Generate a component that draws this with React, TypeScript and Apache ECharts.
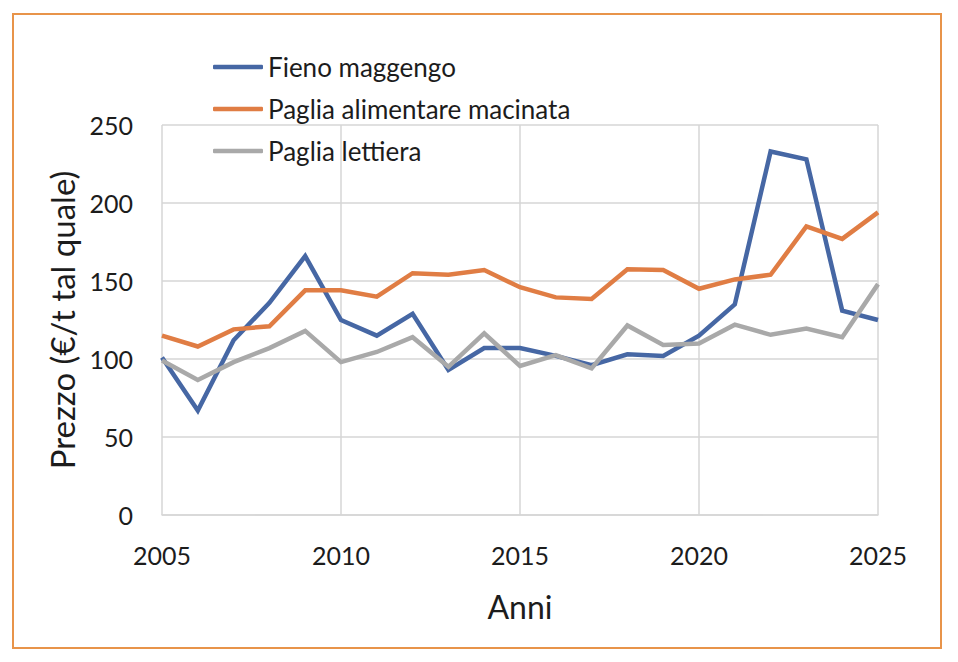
import React, { useEffect, useRef } from "react";
import * as echarts from "echarts";

const years = [2005, 2006, 2007, 2008, 2009, 2010, 2011, 2012, 2013, 2014, 2015, 2016, 2017, 2018, 2019, 2020, 2021, 2022, 2023, 2024, 2025];
const fienoMaggengo = [101, 67, 112, 136, 166, 125, 115, 129, 93, 107, 107, 102, 96, 103, 102, 115, 135, 233, 228, 131, 125];
const pagliaAlimentare = [115, 108, 119, 121, 144, 144, 140, 155, 154, 157, 146, 139.5, 138.5, 157.5, 157, 145, 151, 154, 185, 177, 194];
const pagliaLettiera = [99, 86.5, 98, 107, 118, 98, 104.5, 114, 95, 116.5, 95.5, 102.5, 94, 121.5, 109, 110, 122, 115.5, 119.5, 114, 148];
const seriesNames = ["Fieno maggengo", "Paglia alimentare macinata", "Paglia lettiera"];
const colors = ["#4667a4", "#e07d44", "#a9a9a9"];

const FONT = "Lato";
const TXT = "#1c1c1c";

export default function App() {
  const ref = useRef<HTMLDivElement>(null);
  useEffect(() => {
    document.body.style.margin = "0";
    const chart = echarts.init(ref.current!, null, { renderer: "svg" });
    const all = [fienoMaggengo, pagliaAlimentare, pagliaLettiera];
    chart.setOption({
      animation: false,
      backgroundColor: "#ffffff",
      textStyle: { fontFamily: FONT },
      graphic: [
        {
          type: "rect",
          shape: { x: 13, y: 14, width: 928, height: 634 },
          style: { fill: "none", stroke: "#e8944a", lineWidth: 2 },
          silent: true,
        },
      ],
      legend: {
        orient: "vertical",
        left: 208,
        top: 47,
        itemWidth: 50,
        itemHeight: 4.5,
        itemGap: 12,
        textStyle: { fontFamily: FONT, fontSize: 26, lineHeight: 30, color: TXT },
        data: seriesNames.map((n) => ({ name: n, icon: "roundRect" })),
        itemStyle: { borderWidth: 0 },
      },
      grid: { left: 162, right: 80, top: 125, bottom: 147, containLabel: false },
      xAxis: {
        type: "value",
        min: 2005,
        max: 2025,
        interval: 5,
        name: "Anni",
        nameLocation: "middle",
        nameGap: 75,
        nameTextStyle: { fontFamily: FONT, fontSize: 32, color: TXT },
        axisLine: { show: true, lineStyle: { color: "#d6d6d6", width: 1.5 } },
        axisTick: { show: false },
        axisLabel: {
          fontFamily: FONT,
          fontSize: 25,
          color: TXT,
          margin: 27,
          formatter: (v: number) => String(v),
        },
        splitLine: { show: true, lineStyle: { color: "#d6d6d6", width: 1.5 } },
      },
      yAxis: {
        type: "value",
        min: 0,
        max: 250,
        interval: 50,
        name: "Prezzo (€/t tal quale)",
        nameLocation: "middle",
        nameGap: 69,
        nameTextStyle: { fontFamily: FONT, fontSize: 33, color: TXT },
        axisLine: { show: false },
        axisTick: { show: false },
        axisLabel: { fontFamily: FONT, fontSize: 25, color: TXT, margin: 29 },
        splitLine: { show: true, lineStyle: { color: "#d6d6d6", width: 1.5 } },
      },
      series: seriesNames.map((n, i) => ({
        name: n,
        type: "line",
        data: years.map((y, j) => [y, all[i][j]]),
        symbol: "none",
        lineStyle: { color: colors[i], width: 4.5, join: "miter" },
        itemStyle: { color: colors[i] },
      })),
    });
    return () => chart.dispose();
  }, []);
  return <div ref={ref} style={{ width: 958, height: 662 }} />;
}
